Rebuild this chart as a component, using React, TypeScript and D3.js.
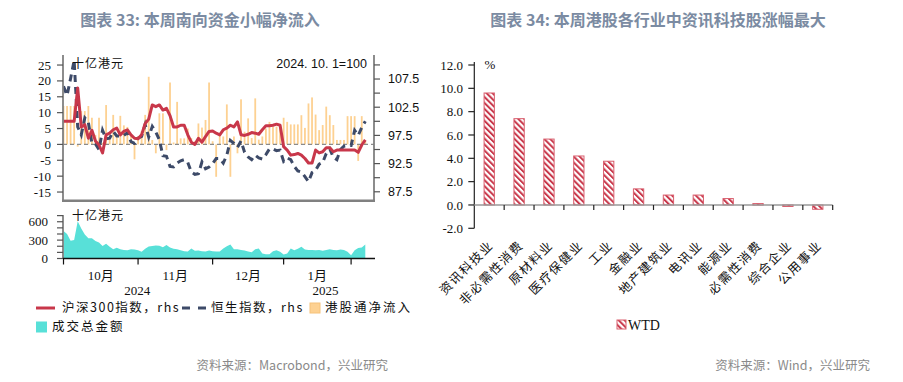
import React from 'react';
import * as d3 from 'd3';

// ---------- Left chart data (HK trading days, 2024-10-02 .. 2025-02-07) ----------
const monthLabels = ['10月', '11月', '12月', '1月'];
const monthTickIdx = [0, 21, 42, 62, 81];
const monthLabelIdx = [10.5, 31.5, 52, 71.5];
const yearLabels = ['2024', '2025'];
const yearLabelIdx = [20.8, 73.8];

const csi300 = [
  100, 100, 100, 100, 105.9, 99.0, 99.4, 97.0, 98.4, 96.5,
  95.8, 94.4, 97.6, 97.9, 98.5, 98.8, 97.6, 98.2, 98.5, 97.6,
  97.0, 96.9, 97.6, 99.6, 100.4, 102.9, 102.6, 102.9, 102.0, 102.3,
  101.0, 99.0, 99.0, 99.3, 99.3, 97.6, 96.3, 95.9, 97.0, 96.3,
  97.3, 98.2, 98.3, 97.9, 97.6, 98.5, 98.8, 99.3, 99.0, 99.9,
  97.6, 97.5, 97.7, 98.0, 97.9, 97.7, 98.5, 99.2, 99.2, 99.3,
  99.5, 99.3, 95.5, 94.9, 94.0, 94.1, 94.3, 94.0, 93.4, 92.6,
  92.6, 94.9, 94.4, 94.6, 95.3, 95.3, 94.6, 94.9, 94.9, 94.9,
  94.9, 94.9, 94.9, 94.5, 95.8, 96.7,
];

const hsi = [
  106.2, 104.6, 107.6, 110.8, 99.0, 97.6, 100.6, 99.8, 96.1, 96.0,
  95.0, 98.4, 96.9, 97.0, 98.2, 97.4, 97.4, 97.5, 98.0, 96.4,
  96.1, 97.0, 97.3, 99.4, 97.2, 99.1, 98.1, 96.7, 93.9, 93.8,
  92.0, 91.9, 92.6, 93.0, 93.2, 92.7, 91.0, 90.6, 90.7, 92.8,
  91.6, 91.9, 92.5, 93.4, 93.4, 92.6, 94.0, 96.6, 96.1, 95.4,
  96.5, 94.5, 93.7, 93.2, 94.0, 93.5, 93.3, 94.1, 95.1, 95.1,
  94.8, 94.9, 92.9, 93.5, 93.2, 92.0, 91.2, 91.0, 90.2, 89.3,
  90.9, 91.3, 92.4, 92.7, 94.3, 95.1, 93.6, 93.2, 95.0, 95.6,
  95.7, 95.7, 98.4, 97.5, 98.9, 100.0,
];

const southbound = [
  12.1, 12.1, 12.1, 12.1, -0.7, 10.5, 10.5, 12.1, 8.4, 3.0,
  8.4, 0.5, 12.4, 2.5, 9.3, 3.0, 9.0, 6.0, 5.5, 2.6,
  -4.7, 2.6, 4.2, 9.3, 21.3, 1.4, -2.8, 9.8, 9.8, -1.8,
  19.5, 0.6, 13.4, 1.9, 1.9, 5.0, 2.0, 1.0, 6.6, 5.3,
  7.7, 19.5, 1.0, -10.2, 3.0, 2.5, 12.6, -10.2, 2.5, -2.8,
  14.2, 4.0, 8.2, 2.0, 14.5, 1.5, 2.5, 5.0, 7.1, 5.6,
  5.6, 5.6, 8.4, 7.1, 6.3, 6.3, 6.3, 9.2, 5.2, 12.9,
  14.8, 9.4, 4.5, 6.1, 11.9, 9.2, 6.1, 1.4, 1.4, 1.4,
  8.9, 8.9, 8.9, -5.2, 8.9, 1.0,
];

const turnover = [
  450, 400, 290, 300, 610, 490, 390, 330, 330, 285,
  260, 205, 240, 190, 150, 175, 152, 140, 136, 150,
  145, 135, 110, 160, 195, 205, 213, 210, 185, 220,
  180, 160, 150, 136, 120, 115, 164, 125, 130, 120,
  115, 130, 120, 115, 115, 164, 200, 230, 152, 150,
  140, 130, 115, 100, 150, 164, 80, 70, 70, 120,
  136, 110, 66, 80, 164, 136, 160, 190, 145, 140,
  140, 135, 140, 125, 140, 152, 140, 136, 145, 140,
  110, 54, 136, 170, 180, 230,
];

const leftTicks = [-15, -10, -5, 0, 5, 10, 15, 20, 25];
const rightTicks = [87.5, 92.5, 97.5, 102.5, 107.5];
const rightMinorTicks = [90, 95, 100, 105, 110];
const volTicks = [0, 300, 600];
const volMinorTicks = [100, 200, 400, 500, 700];

// ---------- Right chart data ----------
const sectors = ['资讯科技业', '非必需性消费', '原材料业', '医疗保健业', '工业', '金融业', '地产建筑业', '电讯业', '能源业', '必需性消费', '综合企业', '公用事业'];
const wtd = [9.6, 7.4, 5.65, 4.2, 3.75, 1.38, 0.85, 0.85, 0.55, 0.12, -0.1, -0.37];
const wtdTicks = [-2, 0, 2, 4, 6, 8, 10, 12];

const RED = '#c8374a';
const NAVY = '#3d4a68';
const ORANGE = '#fdd192';
const CYAN = '#58e0d8';
const GRAY = '#808080';
const SERIF = '"Liberation Serif", "Noto Sans CJK SC", serif';
const SANS = '"Liberation Sans", Arial, sans-serif';
const CJK = '"Noto Sans CJK SC", sans-serif';

export default function App() {
  // left chart geometry
  const L = 63, R = 374, T = 55, B = 200.7;
  const T2 = 215, B2 = 258.5;
  const x = d3.scaleLinear().domain([0, 85]).range([63.5, 365.3]);
  const yL = d3.scaleLinear().domain([-17.73, 28.16]).range([B, T]);
  const yR = d3.scaleLinear().domain([85.92, 111.76]).range([B, T]);
  const yV = d3.scaleLinear().domain([0, 710]).range([B2, T2]);

  const lineR = d3.line<number>().x((_, i) => x(i)).y((d) => yR(d));
  const area = d3.area<number>().x((_, i) => x(i)).y0(yV(0)).y1((d) => yV(d));

  // right chart geometry
  const RL = 474.3, RR = 832.7;
  const yW = d3.scaleLinear().domain([-2, 12]).range([228.3, 65]);
  const xb = d3.scaleBand<string>().domain(sectors).range([RL, RR]).padding(0);
  const bw = xb.bandwidth() * 0.345;

  const legY1 = 308;
  const legY2 = 327;

  return (
    <svg width={903} height={382} style={{ display: 'block', position: 'absolute', left: 0, top: 0, background: '#fff' }}>
      <defs>
        <pattern id="hatch" patternUnits="userSpaceOnUse" width={4.2} height={4.2} patternTransform="rotate(-45)">
          <rect x={0} y={0} width={4.2} height={4.2} fill="#fff" />
          <rect x={0} y={0} width={2} height={4.2} fill={RED} />
        </pattern>
        <clipPath id="topClip">
          <rect x={L} y={T} width={R - L} height={B - T} />
        </clipPath>
      </defs>

      {/* Titles */}
      <text x={200} y={26} textAnchor="middle" fontFamily={CJK} fontWeight={700} fontSize={16} fill="#7b8ba2">图表 33: 本周南向资金小幅净流入</text>
      <text x={658} y={26} textAnchor="middle" fontFamily={CJK} fontWeight={700} fontSize={16} fill="#7b8ba2">图表 34: 本周港股各行业中资讯科技股涨幅最大</text>

      {/* ---------- Left chart: top panel ---------- */}
      <g clipPath="url(#topClip)">
        {southbound.map((v, i) => (
          <rect key={i} x={x(i) - 0.9} width={1.8} y={Math.min(yL(v), yL(0))} height={Math.abs(yL(v) - yL(0))} fill={ORANGE} />
        ))}
        <line x1={L} x2={R} y1={yL(0)} y2={yL(0)} stroke="#8a8a8a" strokeWidth={1.2} strokeDasharray="4,3" />
        <path d={lineR(hsi) || ''} fill="none" stroke={NAVY} strokeWidth={3} strokeDasharray="7,5" />
        <path d={lineR(csi300) || ''} fill="none" stroke={RED} strokeWidth={3} strokeLinejoin="round" />
      </g>
      {/* axes */}
      <line x1={L} x2={L} y1={T} y2={B} stroke={GRAY} strokeWidth={1.8} />
      <line x1={R} x2={R} y1={T} y2={B} stroke={GRAY} strokeWidth={1.8} />
      <line x1={L - 1} x2={R + 1} y1={B} y2={B} stroke={GRAY} strokeWidth={2.6} />
      {leftTicks.map((t) => (
        <g key={t}>
          <line x1={L - 6} x2={L} y1={yL(t)} y2={yL(t)} stroke="#555" strokeWidth={1.2} />
          <text x={51} y={yL(t)} dy="0.35em" textAnchor="end" fontFamily={SERIF} fontSize={13} fill="#111">{t}</text>
        </g>
      ))}
      {[...rightTicks, ...rightMinorTicks].map((t) => (
        <line key={t} x1={R} x2={R + 6} y1={yR(t)} y2={yR(t)} stroke="#555" strokeWidth={1.2} />
      ))}
      {rightTicks.map((t) => (
        <text key={t} x={388} y={yR(t)} dy="0.35em" textAnchor="start" fontFamily={SANS} fontSize={12.5} fill="#111">{t.toFixed(1)}</text>
      ))}
      <text x={72} y={68} fontFamily={CJK} fontSize={12} letterSpacing={1} fill="#111">十亿港元</text>
      <text x={367} y={68} textAnchor="end" fontFamily={SANS} fontSize={12.5} fill="#111">2024. 10. 1=100</text>

      {/* ---------- Left chart: bottom panel ---------- */}
      <path d={area(turnover) || ''} fill={CYAN} />
      <line x1={L} x2={L} y1={T2} y2={B2} stroke={GRAY} strokeWidth={1.8} />
      {[...volTicks, ...volMinorTicks].map((t) => (
        <line key={t} x1={L - 6} x2={L} y1={yV(t)} y2={yV(t)} stroke="#555" strokeWidth={1.2} />
      ))}
      {volTicks.map((t) => (
        <text key={t} x={48} y={yV(t)} dy="0.35em" textAnchor="end" fontFamily={SERIF} fontSize={13} fill="#111">{t}</text>
      ))}
      <line x1={L} x2={R + 1} y1={B2} y2={B2} stroke="#111" strokeWidth={1.3} />
      {monthTickIdx.map((t) => (
        <line key={t} x1={x(t)} x2={x(t)} y1={B2} y2={B2 + 6} stroke="#111" strokeWidth={1.2} />
      ))}
      {monthLabels.map((m, i) => (
        <text key={m} x={x(monthLabelIdx[i])} y={280} textAnchor="middle" fontFamily={SERIF} fontSize={13} fill="#111">{m}</text>
      ))}
      {yearLabels.map((yv, i) => (
        <text key={yv} x={x(yearLabelIdx[i])} y={294.5} textAnchor="middle" fontFamily={SERIF} fontSize={13} fill="#111">{yv}</text>
      ))}
      <text x={72} y={220} fontFamily={CJK} fontSize={12} letterSpacing={1} fill="#111">十亿港元</text>

      {/* legend left */}
      <line x1={36} x2={55} y1={legY1} y2={legY1} stroke={RED} strokeWidth={3} />
      <text x={62} y={legY1} dy="0.35em" fontFamily={CJK} fontSize={12.5} letterSpacing={1.5} fill="#111">沪深300指数，rhs</text>
      <line x1={182} x2={190} y1={legY1} y2={legY1} stroke={NAVY} strokeWidth={3} />
      <line x1={198} x2={206} y1={legY1} y2={legY1} stroke={NAVY} strokeWidth={3} />
      <text x={211} y={legY1} dy="0.35em" fontFamily={CJK} fontSize={12.5} letterSpacing={1.5} fill="#111">恒生指数，rhs</text>
      <rect x={310} y={legY1 - 5} width={10} height={10} fill={ORANGE} stroke="#f6c27a" strokeWidth={1} />
      <text x={325} y={legY1} dy="0.35em" fontFamily={CJK} fontSize={12.5} letterSpacing={2} fill="#111">港股通净流入</text>
      <rect x={36} y={legY2 - 5.5} width={11} height={11} fill={CYAN} />
      <text x={52} y={legY2} dy="0.35em" fontFamily={CJK} fontSize={12.5} letterSpacing={2} fill="#111">成交总金额</text>

      <text x={388} y={370} textAnchor="end" fontFamily={CJK} fontSize={12.5} fill="#8a8a8a">资料来源：Macrobond，兴业研究</text>

      {/* ---------- Right chart ---------- */}
      {sectors.map((s, i) => {
        const v = wtd[i];
        const cx = (xb(s) as number) + xb.bandwidth() / 2;
        return (
          <rect key={s} x={cx - bw / 2} width={bw} y={Math.min(yW(v), yW(0))} height={Math.max(Math.abs(yW(v) - yW(0)), 1.5)} fill="url(#hatch)" stroke="#d9606f" strokeWidth={1} />
        );
      })}
      <line x1={RL} x2={RL} y1={62} y2={228.3} stroke="#222" strokeWidth={1.2} />
      {wtdTicks.map((t) => (
        <g key={t}>
          <line x1={RL - 6} x2={RL} y1={yW(t)} y2={yW(t)} stroke="#222" strokeWidth={1.2} />
          <text x={463} y={yW(t)} dy="0.35em" textAnchor="end" fontFamily={SERIF} fontSize={13} fill="#111">{t.toFixed(1)}</text>
        </g>
      ))}
      <line x1={RL} x2={RR} y1={yW(0)} y2={yW(0)} stroke="#999" strokeWidth={1.6} />
      {sectors.map((s) => (
        <line key={s} x1={(xb(s) as number) + xb.bandwidth()} x2={(xb(s) as number) + xb.bandwidth()} y1={yW(0)} y2={yW(0) + 5} stroke="#222" strokeWidth={1.2} />
      ))}
      <text x={490} y={69} textAnchor="middle" fontFamily={SERIF} fontSize={13} fill="#111">%</text>
      {sectors.map((s) => {
        const cx = (xb(s) as number) + xb.bandwidth() / 2;
        return (
          <text key={s} transform={`translate(${cx + 5},${246}) rotate(-45)`} textAnchor="end" fontFamily={CJK} fontSize={12.5} letterSpacing={1.5} fill="#111">{s}</text>
        );
      })}
      <rect x={617} y={320} width={9} height={9} fill="url(#hatch)" stroke="#d9606f" strokeWidth={1} />
      <text x={628} y={325} dy="0.35em" fontFamily={SERIF} fontSize={14} fill="#111">WTD</text>

      <text x={870} y={370} textAnchor="end" fontFamily={CJK} fontSize={12.5} fill="#8a8a8a">资料来源：Wind，兴业研究</text>
    </svg>
  );
}
